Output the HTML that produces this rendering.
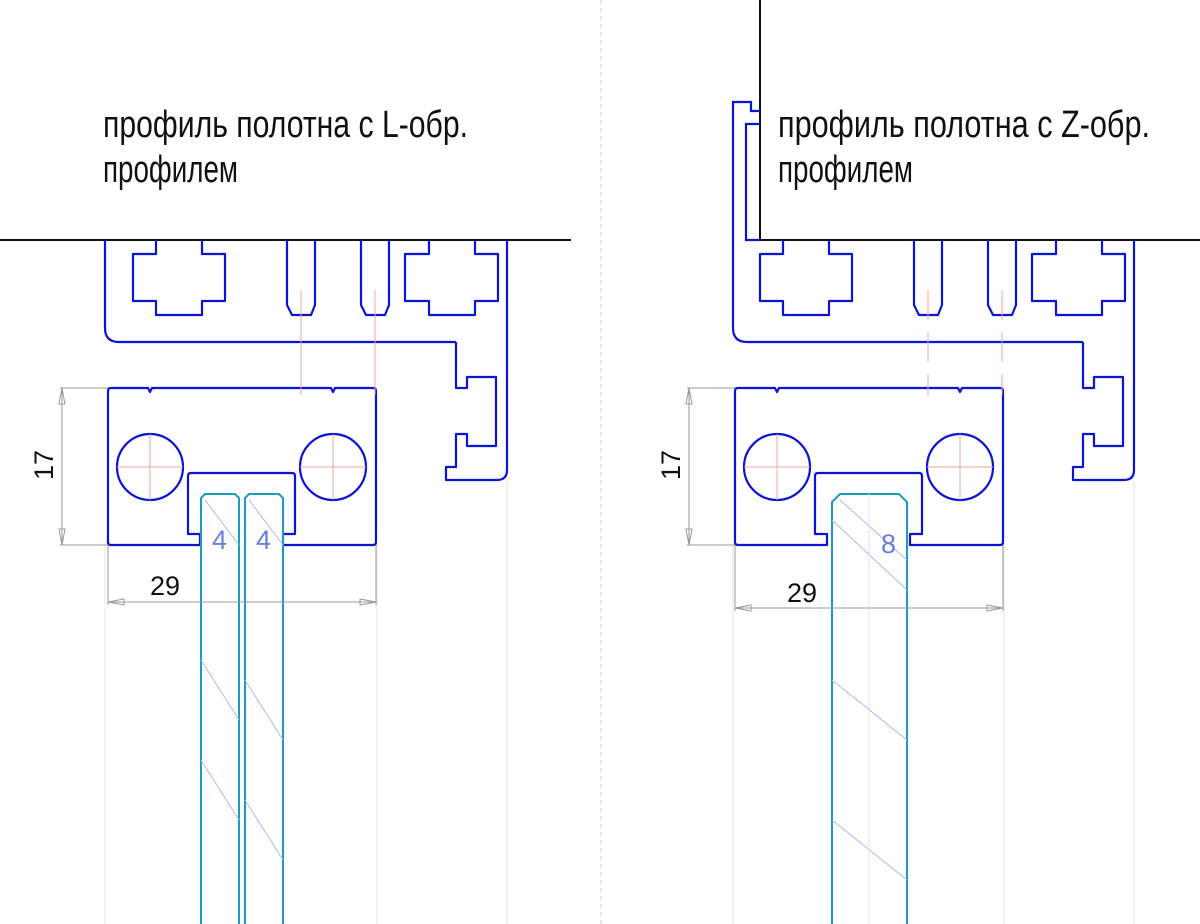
<!DOCTYPE html>
<html><head><meta charset="utf-8"><style>html,body{margin:0;padding:0;background:#fff}svg{display:block}</style></head><body>
<svg width="1200" height="924" viewBox="0 0 1200 924" xmlns="http://www.w3.org/2000/svg">
<defs>
<g id="prof" fill="none" stroke="#0a14d2" stroke-width="2.2" stroke-linejoin="round">
  <path d="M456,342 V388 H467 V377 H496 V446 H467 V434 H456 V467 H446 V480 H497 Q507,480 507,470 V240"/>
  <path d="M156,240 V254 H133 V301 H156 V315 H202 V301 H225 V254 H202 V240"/>
  <path d="M429,240 V254 H405 V301 H429 V315 H475 V301 H498 V254 H475 V240"/>
  <path d="M287,240 V305 L292,315 H311 L315,305 V240"/>
  <path d="M361,240 V305 L366,315 H385 L389,305 V240"/>
  <path d="M111,388 H148 L150,392 L152,388 H331 L333,392 L335,388 H373 Q376,388 376,391 V542 Q376,545 373,545 H283 V534 H295 V476 Q295,473 292,473 H191 Q188,473 188,476 V534 H200 V545 H111 Q108,545 108,542 V391 Q108,388 111,388 Z"/>
  <circle cx="150" cy="467" r="33"/>
  <circle cx="333" cy="467" r="33"/>
</g>
<g id="marks" stroke="#f4a0a0" stroke-width="1" fill="none">
  <path d="M117,467 H183 M150,434 V500 M300,467 H366 M333,434 V500"/>
</g>
</defs>
<g stroke="#e6e6e6" stroke-width="1">
  <line x1="105" y1="545" x2="105" y2="924"/><line x1="377" y1="545" x2="377" y2="924"/><line x1="507" y1="480" x2="507" y2="924"/>
  <line x1="733" y1="545" x2="733" y2="924"/><line x1="1004" y1="545" x2="1004" y2="924"/><line x1="1134" y1="480" x2="1134" y2="924"/>
</g>
<line x1="601" y1="0" x2="601" y2="924" stroke="#c8c8c8" stroke-width="1" stroke-dasharray="4,4"/>

<line x1="0" y1="240" x2="571" y2="240" stroke="#111" stroke-width="2"/>
<path d="M105,240 V328 Q105,342 119,342 H456" fill="none" stroke="#0a14d2" stroke-width="2.2"/>
<use href="#prof"/>
<use href="#marks"/>
<g stroke="#f4a0a0" stroke-width="1"><line x1="301" y1="290" x2="301" y2="395"/><line x1="375" y1="290" x2="375" y2="395"/></g>
<g fill="none" stroke="#1a9cc0" stroke-width="2">
  <path d="M201,924 V498 L205,494 H235 L239,498 V924"/>
  <path d="M245,924 V498 L249,494 H279 L283,498 V924"/>
</g>
<g stroke="#a8b8f0" stroke-width="1">
  <line x1="205" y1="500" x2="239" y2="545"/><line x1="249" y1="500" x2="283" y2="545"/>
  <line x1="201" y1="660" x2="239" y2="720"/><line x1="245" y1="680" x2="283" y2="740"/>
  <line x1="201" y1="760" x2="239" y2="820"/><line x1="245" y1="800" x2="283" y2="860"/>
</g>
<g font-family="'Liberation Sans Narrow','Liberation Sans',sans-serif" font-size="27" fill="#6a80d8"><text x="212" y="549">4</text><text x="256" y="549">4</text></g>
<g stroke="#999" stroke-width="1" fill="none">
  <line x1="60" y1="388" x2="108" y2="388"/><line x1="60" y1="545" x2="108" y2="545"/>
  <line x1="62" y1="388" x2="62" y2="545"/>
  <line x1="108" y1="545" x2="108" y2="605"/><line x1="376" y1="545" x2="376" y2="605"/>
  <line x1="108" y1="602" x2="376" y2="602"/>
  <path d="M62,388 L59,404 H65 Z M62,545 L59,529 H65 Z M108,602 L124,599 V605 Z M376,602 L360,599 V605 Z"/>
</g>
<g font-family="'Liberation Sans Narrow','Liberation Sans',sans-serif" font-size="27" fill="#111">
  <text x="150" y="595">29</text>
  <text transform="translate(53,480) rotate(-90)">17</text>
</g>

<line x1="760" y1="0" x2="760" y2="240" stroke="#111" stroke-width="2"/>
<line x1="760" y1="240" x2="1200" y2="240" stroke="#111" stroke-width="2"/>
<path d="M760,111 H751 V102 H733 V328 Q733,342 747,342 H1083 M760,124 H746 V240 H760" fill="none" stroke="#0a14d2" stroke-width="2.2"/>
<g transform="translate(627,0)"><use href="#prof"/><use href="#marks"/></g>
<g stroke="#f4a0a0" stroke-width="1" stroke-dasharray="30,12"><line x1="928" y1="290" x2="928" y2="395"/><line x1="1002" y1="290" x2="1002" y2="395"/></g>
<path d="M832,924 V502 L840,494 H899 L907,502 V924" fill="none" stroke="#1a9cc0" stroke-width="2"/>
<g stroke="#a8b8f0" stroke-width="1">
  <line x1="840" y1="500" x2="907" y2="560"/><line x1="832" y1="520" x2="907" y2="590"/>
  <line x1="832" y1="680" x2="907" y2="740"/><line x1="832" y1="820" x2="907" y2="880"/>
</g>
<line x1="869" y1="494" x2="869" y2="924" stroke="#cfe8f4" stroke-width="1"/>
<text x="881" y="553" font-family="'Liberation Sans Narrow','Liberation Sans',sans-serif" font-size="27" fill="#6a80d8">8</text>
<g stroke="#999" stroke-width="1" fill="none">
  <line x1="687" y1="388" x2="735" y2="388"/><line x1="687" y1="545" x2="735" y2="545"/>
  <line x1="689" y1="388" x2="689" y2="545"/>
  <line x1="735" y1="545" x2="735" y2="611"/><line x1="1003" y1="545" x2="1003" y2="611"/>
  <line x1="735" y1="608" x2="1003" y2="608"/>
  <path d="M689,388 L686,404 H692 Z M689,545 L686,529 H692 Z M735,608 L751,605 V611 Z M1003,608 L987,605 V611 Z"/>
</g>
<g font-family="'Liberation Sans Narrow','Liberation Sans',sans-serif" font-size="27" fill="#111">
  <text x="787" y="602">29</text>
  <text transform="translate(680,480) rotate(-90)">17</text>
</g>

<g font-family="'Liberation Sans Narrow','Liberation Sans',sans-serif" font-size="38" fill="#111">
  <text x="103" y="137" textLength="365" lengthAdjust="spacingAndGlyphs">профиль полотна с L-обр.</text>
  <text x="103" y="182" textLength="135" lengthAdjust="spacingAndGlyphs">профилем</text>
  <text x="778" y="137" textLength="372" lengthAdjust="spacingAndGlyphs">профиль полотна с Z-обр.</text>
  <text x="778" y="182" textLength="135" lengthAdjust="spacingAndGlyphs">профилем</text>
</g>
</svg>
</body></html>
